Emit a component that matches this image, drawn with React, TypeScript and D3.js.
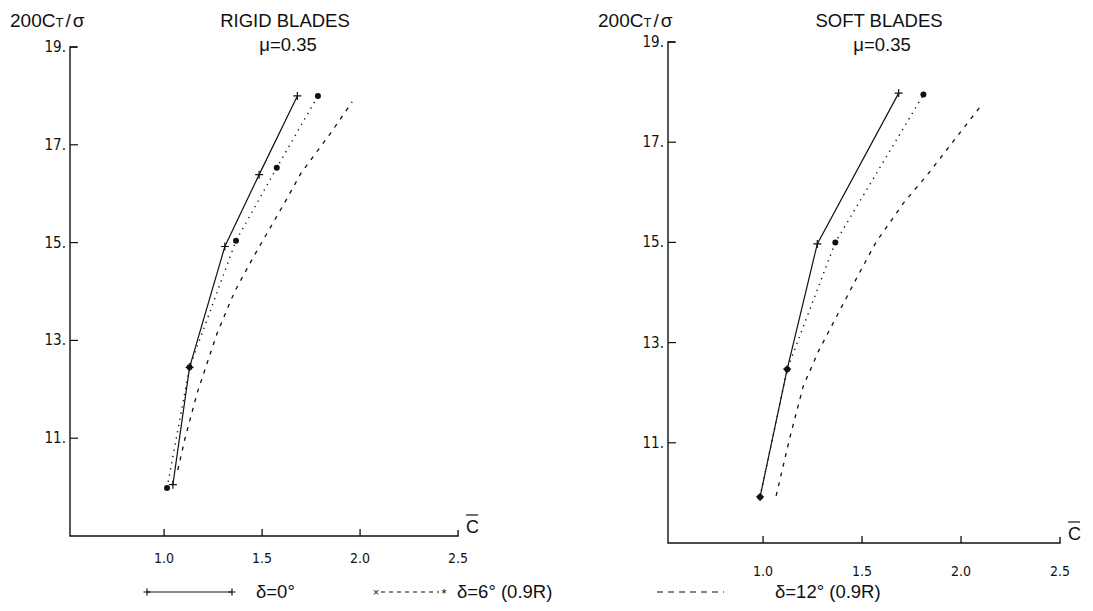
import React from 'react';
import * as d3 from 'd3';

// values: [C-bar, 200Ct/sigma]
const rigidSolid = [[1.045, 10.05], [1.13, 12.45], [1.31, 14.92], [1.485, 16.39], [1.68, 18.0]];
const rigidDotted = [[1.015, 9.98], [1.13, 12.45], [1.367, 15.04], [1.575, 16.53], [1.785, 18.0]];
const rigidDashed = [[1.07, 10.35], [1.107, 11.0], [1.17, 11.94], [1.27, 13.14], [1.36, 14.0], [1.455, 14.7], [1.515, 15.12], [1.61, 15.78], [1.7, 16.43], [1.85, 17.24], [1.96, 17.88]];

const softSolid = [[0.985, 9.92], [1.122, 12.47], [1.274, 14.97], [1.685, 17.98]];
const softDotted = [[0.985, 9.92], [1.122, 12.47], [1.365, 15.0], [1.81, 17.95]];
const softDashed = [[1.066, 9.94], [1.137, 11.13], [1.203, 12.13], [1.28, 12.83], [1.39, 13.66], [1.477, 14.32], [1.57, 15.0], [1.71, 15.79], [1.83, 16.35], [1.985, 17.14], [2.107, 17.76]];

const yTicks = [11, 13, 15, 17, 19];
const xTicks = [1.0, 1.5, 2.0, 2.5];
const yTop = 19;
const yBottom = 9;
const xStart = 0.52;

const legendLabels = ['δ=0°', 'δ=6° (0.9R)', 'δ=12° (0.9R)'];

const tickFont = '"Liberation Sans Narrow", "DejaVu Sans Condensed", sans-serif';
const textFont = '"Liberation Sans", Arial, sans-serif';
const ink = '#111';

function Plus({ x, y, s = 4 }) {
  return <path d={`M${x - s},${y}H${x + s}M${x},${y - s}V${y + s}`} stroke={ink} strokeWidth={1.2} />;
}

function Panel({ left, right, top, bottom, title, solid, dotted, dashed, titleX, yLabelX, xLabelY }) {
  const x = d3.scaleLinear().domain([xStart, 2.52]).range([left, right]);
  const y = d3.scaleLinear().domain([yBottom, yTop]).range([bottom, top]);
  const line = d3.line().x(d => x(d[0])).y(d => y(d[1]));
  const x0 = x(xStart);
  const xEnd = x(2.5);
  return (
    <g>
      <text x={yLabelX} y={27} fontFamily={textFont} fontSize={19} fill={ink}>
        200C<tspan fontSize={13}>T</tspan><tspan dx={2}>/</tspan><tspan dx={2}>σ</tspan>
      </text>
      <text x={titleX} y={27} fontFamily={textFont} fontSize={18.5} fill={ink} textAnchor="middle">{title}</text>
      <text x={titleX + 3} y={51} fontFamily={textFont} fontSize={18.5} fill={ink} textAnchor="middle">μ=0.35</text>

      {/* axes */}
      <path d={`M${x0 + 7},${y(yTop)}H${x0}V${y(yBottom)}H${xEnd}v-6`} fill="none" stroke={ink} strokeWidth={1.4} />
      {yTicks.map(t => (
        <g key={t}>
          <line x1={x0} x2={x0 + 8} y1={y(t)} y2={y(t)} stroke={ink} strokeWidth={1.2} />
          <text x={x0 - 4} y={y(t) + 5} textAnchor="end" fontFamily={tickFont} fontSize={15} fill={ink}>{t}.</text>
        </g>
      ))}
      {xTicks.map(t => (
        <g key={t}>
          {t < 2.5 && <line x1={x(t)} x2={x(t)} y1={y(yBottom)} y2={y(yBottom) - 7} stroke={ink} strokeWidth={1.3} />}
          <text x={x(t)} y={xLabelY} textAnchor="middle" fontFamily={tickFont} fontSize={14} fill={ink}>{t.toFixed(1)}</text>
        </g>
      ))}
      <text x={xEnd + 8} y={y(yBottom) - 3} fontFamily={textFont} fontSize={18} fill={ink}>C</text>
      <line x1={xEnd + 8} x2={xEnd + 20} y1={y(yBottom) - 21} y2={y(yBottom) - 21} stroke={ink} strokeWidth={1.2} />

      {/* curves */}
      <path d={line(dashed)} fill="none" stroke={ink} strokeWidth={1.3} strokeDasharray="4 6" />
      <path d={line(dotted)} fill="none" stroke={ink} strokeWidth={1.4} strokeDasharray="1.3 5" />
      <path d={line(solid)} fill="none" stroke={ink} strokeWidth={1.2} />
      {solid.map((d, i) => <Plus key={i} x={x(d[0])} y={y(d[1])} />)}
      {dotted.map((d, i) => <circle key={i} cx={x(d[0])} cy={y(d[1])} r={3} fill={ink} />)}
    </g>
  );
}

export default function App() {
  const W = 1093;
  const H = 611;
  const ly = 592;
  return (
    <svg width={W} height={H} style={{ position: 'absolute', left: 0, top: 0, background: '#fff' }}>
      <rect width={W} height={H} fill="#fff" />
      <Panel left={70} right={462} top={47} bottom={536} title="RIGID BLADES" titleX={285}
        solid={rigidSolid} dotted={rigidDotted} dashed={rigidDashed} yLabelX={10} xLabelY={563} />
      <Panel left={668} right={1064} top={42} bottom={543} title="SOFT BLADES" titleX={879}
        solid={softSolid} dotted={softDotted} dashed={softDashed} yLabelX={598} xLabelY={576} />

      {/* legend */}
      <line x1={147} x2={232} y1={ly} y2={ly} stroke={ink} strokeWidth={1.2} />
      <Plus x={147} y={ly} s={3.5} />
      <Plus x={232} y={ly} s={3.5} />
      <text x={256} y={ly + 6} fontFamily={textFont} fontSize={18.5} fill={ink}>{legendLabels[0]}</text>

      <line x1={381} x2={439} y1={ly} y2={ly} stroke={ink} strokeWidth={1.2} strokeDasharray="4 4" />
      <text x={376} y={ly + 4} fontFamily={textFont} fontSize={11} fill={ink} textAnchor="middle">×</text>
      <text x={444} y={ly + 6} fontFamily={textFont} fontSize={13} fill={ink} textAnchor="middle">*</text>
      <text x={457} y={ly + 6} fontFamily={textFont} fontSize={18.5} fill={ink}>{legendLabels[1]}</text>

      <line x1={657} x2={724} y1={ly} y2={ly} stroke={ink} strokeWidth={1.2} strokeDasharray="6 5" />
      <text x={775} y={ly + 6} fontFamily={textFont} fontSize={18.5} fill={ink}>{legendLabels[2]}</text>
    </svg>
  );
}
